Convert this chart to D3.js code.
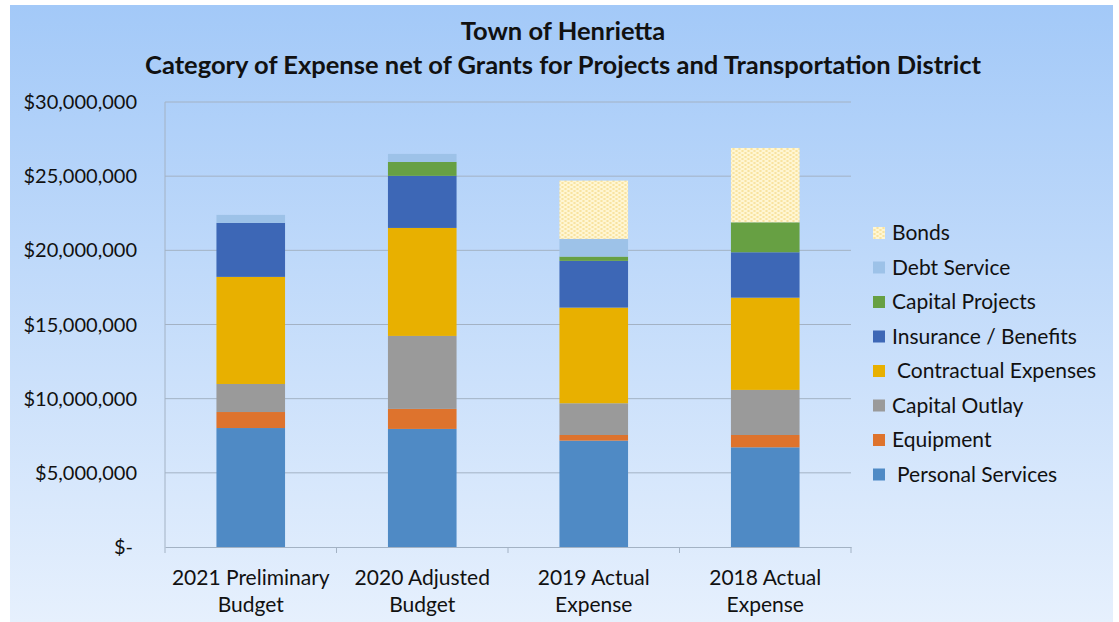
<!DOCTYPE html>
<html>
<head>
<meta charset="utf-8">
<script src="https://cdn.jsdelivr.net/npm/d3@7"></script>
<style>
  body { margin: 0; background: #fff; }
  text { font-family: Lato, "Open Sans", sans-serif; fill: #111; }
</style>
</head>
<body>
<svg id="chart"></svg>
<script>
// bars, left to right
const categories = [
    ["2021 Preliminary", "Budget"],
    ["2020 Adjusted", "Budget"],
    ["2019 Actual", "Expense"],
    ["2018 Actual", "Expense"]
];

// stack order is bottom to top
const seriesNames = [
    "Personal Services", "Equipment", "Capital Outlay", "Contractual Expenses",
    "Insurance / Benefits", "Capital Projects", "Debt Service", "Bonds"
];

const personalServices = [8020000, 7960000, 7170000, 6720000];
const equipment        = [1080000, 1350000, 380000, 830000];
const capitalOutlay    = [1890000, 4920000, 2140000, 3040000];
const contractual      = [7220000, 7280000, 6450000, 6220000];
const insurance        = [3640000, 3510000, 3150000, 3060000];
const capitalProjects  = [0, 940000, 290000, 2020000];
const debtService      = [540000, 540000, 1190000, 0];
const bonds            = [0, 0, 3930000, 5010000];

const yTicks = [0, 5000000, 10000000, 15000000, 20000000, 25000000, 30000000];

const colors = ["#4f8ac5", "#de732d", "#9a9a9a", "#e8b000",
                "#3d67b6", "#67a043", "#9dc2e8", "url(#bondsPattern)"];

const W = 1119, H = 622;
const plot = { left: 165, right: 851, top: 102, bottom: 547 };

const svg = d3.select("#chart").attr("width", W).attr("height", H);
const defs = svg.append("defs");

const grad = defs.append("linearGradient")
    .attr("id", "bg").attr("x1", 0).attr("y1", 0).attr("x2", 0).attr("y2", 1);
grad.append("stop").attr("offset", "0%").attr("stop-color", "#a3c9f8");
grad.append("stop").attr("offset", "100%").attr("stop-color", "#e6f0fd");

// cream dotted fill used for bonds
const pat = defs.append("pattern")
    .attr("id", "bondsPattern").attr("patternUnits", "userSpaceOnUse")
    .attr("width", 6).attr("height", 4);
pat.append("rect").attr("width", 6).attr("height", 4).attr("fill", "#fff6d2");
pat.append("ellipse").attr("cx", 1.5).attr("cy", 1).attr("rx", 1.4).attr("ry", 0.7).attr("fill", "#f6dc8a");
pat.append("ellipse").attr("cx", 4.5).attr("cy", 3).attr("rx", 1.4).attr("ry", 0.7).attr("fill", "#f6dc8a");

svg.append("rect")
    .attr("x", 10).attr("y", 5).attr("width", 1103).attr("height", H - 5)
    .attr("fill", "url(#bg)");

// title
const title = svg.append("g").attr("text-anchor", "middle").style("font-weight", "bold").style("font-size", "25.5px");
title.append("text").attr("x", 563).attr("y", 40).text("Town of Henrietta");
title.append("text").attr("x", 563).attr("y", 74).text("Category of Expense net of Grants for Projects and Transportation District");

const rows = categories.map((c, i) => ({
    key: i,
    "Personal Services": personalServices[i],
    "Equipment": equipment[i],
    "Capital Outlay": capitalOutlay[i],
    "Contractual Expenses": contractual[i],
    "Insurance / Benefits": insurance[i],
    "Capital Projects": capitalProjects[i],
    "Debt Service": debtService[i],
    "Bonds": bonds[i]
}));

const stacked = d3.stack().keys(seriesNames)(rows);

const x = d3.scaleBand()
    .domain(categories.map((c, i) => i))
    .range([plot.left, plot.right])
    .paddingInner(0.6).paddingOuter(0.3);

const y = d3.scaleLinear()
    .domain([0, 30000000])
    .range([plot.bottom, plot.top]);

// gridlines
svg.append("g").selectAll("line")
    .data(yTicks.slice(1))
    .join("line")
    .attr("x1", plot.left).attr("x2", plot.right)
    .attr("y1", d => y(d)).attr("y2", d => y(d))
    .attr("stroke", "#a3b2c4").attr("stroke-width", 1);

// y labels
const fmt = d3.format(",");
svg.append("g").selectAll("text")
    .data(yTicks)
    .join("text")
    .attr("x", d => d === 0 ? 133 : 137)
    .attr("y", d => y(d) + 7)
    .attr("text-anchor", "end")
    .style("font-size", "20px")
    .text(d => d === 0 ? "$-" : "$" + fmt(d));

// axes lines
svg.append("line")
    .attr("x1", plot.left).attr("x2", plot.left)
    .attr("y1", plot.top).attr("y2", plot.bottom)
    .attr("stroke", "#a3b2c4");

const xAxis = d3.axisBottom(x).tickSize(0).tickFormat("");
svg.append("g")
    .attr("transform", `translate(0,${plot.bottom})`)
    .call(xAxis)
    .call(g => g.select(".domain").attr("stroke", "#a3b2c4"));

// category boundary ticks
svg.append("g").selectAll("line")
    .data(d3.range(categories.length + 1))
    .join("line")
    .attr("x1", d => plot.left + d * (plot.right - plot.left) / categories.length)
    .attr("x2", d => plot.left + d * (plot.right - plot.left) / categories.length)
    .attr("y1", plot.bottom).attr("y2", plot.bottom + 6)
    .attr("stroke", "#a3b2c4");

// bars
svg.append("g").selectAll("g")
    .data(stacked)
    .join("g")
    .attr("fill", (d, i) => colors[i])
    .selectAll("rect")
    .data(d => d)
    .join("rect")
    .attr("x", d => x(d.data.key))
    .attr("width", x.bandwidth())
    .attr("y", d => y(d[1]))
    .attr("height", d => y(d[0]) - y(d[1]));

// x labels
svg.append("g").selectAll("text")
    .data(categories)
    .join("text")
    .attr("text-anchor", "middle")
    .style("font-size", "21px")
    .attr("x", (d, i) => x(i) + x.bandwidth() / 2)
    .attr("y", 585)
    .selectAll("tspan")
    .data(d => d)
    .join("tspan")
    .attr("x", function() { return d3.select(this.parentNode).attr("x"); })
    .attr("dy", (d, i) => i === 0 ? 0 : 27)
    .text(d => d);

// legend, top to bottom
const legendNames = seriesNames.slice().reverse();
const legendColors = colors.slice().reverse();
const legendPad = ["", "", "", "", " ", "", "", " "];
const legend = svg.append("g").selectAll("g")
    .data(legendNames)
    .join("g")
    .attr("transform", (d, i) => `translate(873, ${233 + i * 34.5})`);
legend.append("rect")
    .attr("x", 0).attr("y", -6).attr("width", 12).attr("height", 12)
    .attr("fill", (d, i) => legendColors[i]);
legend.append("text")
    .attr("x", (d, i) => legendPad[i] ? 24 : 19)
    .attr("y", 7)
    .style("font-size", "21px")
    .text(d => d);
</script>
</body>
</html>
